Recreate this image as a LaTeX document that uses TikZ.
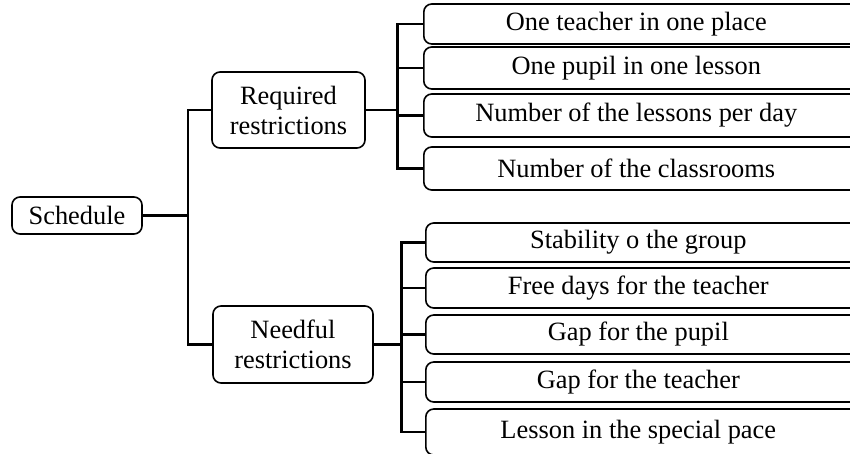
\documentclass[tikz,border=0pt]{standalone}
\usepackage{fontspec}
\setmainfont{Liberation Serif}
\begin{document}
\begin{tikzpicture}[x=1pt,y=-1pt,
  box/.style={draw,line width=1.6pt,rounded corners=8pt,inner sep=0pt,align=center,
    font=\fontsize{26.4}{30}\selectfont},
  leaf/.style={box,minimum width=445pt,anchor=west},
  conn/.style={line width=2.2pt}]
\useasboundingbox (0,0) rectangle (850,454);
\clip (0,0) rectangle (850,454);
\node[box,minimum width=130pt,minimum height=37pt] (sched) at (77,215.5) {Schedule};
\node[box,minimum width=153pt,minimum height=76pt] (req) at (288.5,110) {Required\\restrictions};
\node[box,minimum width=160pt,minimum height=77pt] (need) at (293,344.5) {Needful\\restrictions};
% required leaves
\node[leaf,minimum height=40pt] (t1) at (423,24) {\hspace*{-20pt}One teacher in one place};
\node[leaf,minimum height=42pt] (t2) at (423,68) {\hspace*{-20pt}One pupil in one lesson};
\node[leaf,minimum height=43pt] (t3) at (423,115.5) {\hspace*{-20pt}Number of the lessons per day};
\node[leaf,minimum height=43pt] (t4) at (423,168.5) {\hspace*{-20pt}Number of the classrooms};
% needful leaves
\node[leaf,minimum height=39pt] (b1) at (425,242.5) {\hspace*{-20pt}Stability o the group};
\node[leaf,minimum height=40pt] (b2) at (425,288) {\hspace*{-20pt}Free days for the teacher};
\node[leaf,minimum height=39pt] (b3) at (425,334.5) {\hspace*{-20pt}Gap for the pupil};
\node[leaf,minimum height=40pt] (b4) at (425,382) {\hspace*{-20pt}Gap for the teacher};
\node[leaf,minimum height=46pt] (b5) at (425,432) {\hspace*{-20pt}Lesson in the special pace};
% connectors
\coordinate (j0) at (188,215.5);
\coordinate (j1) at (397.5,110);
\coordinate (j2) at (401.5,344.5);
\draw[conn] (sched.east) -- (j0);
\draw[conn] (req.west) -| (j0) |- (need.west);
\draw[conn] (req.east) -- (j1);
\draw[conn] (need.east) -- (j2);
\foreach \n in {t1,t2,t3,t4} \draw[conn] (j1) |- (\n.west);
\foreach \n in {b1,b2,b3,b4,b5} \draw[conn] (j2) |- (\n.west);
\end{tikzpicture}
\end{document}
